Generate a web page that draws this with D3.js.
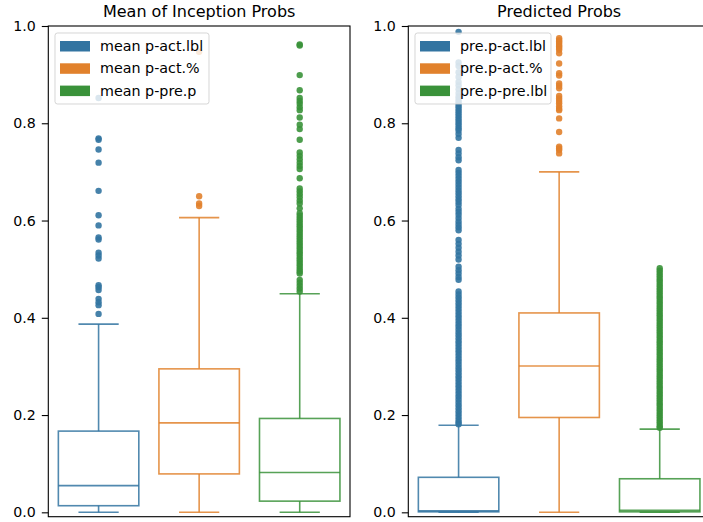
<!DOCTYPE html>
<html>
<head>
<meta charset="utf-8">
<script src="https://cdn.jsdelivr.net/npm/d3@7"></script>
<style>
  html, body { margin: 0; padding: 0; background: #fff; }
  svg { display: block; font-family: "DejaVu Sans", sans-serif; }
</style>
</head>
<body>
<svg id="chart" width="703" height="522"></svg>
<script>
// ---- data -------------------------------------------------------------
const yTicks = [0.0, 0.2, 0.4, 0.6, 0.8, 1.0];
const palette = ["#3274a1", "#e1812c", "#3a923a"];

// Panel 1: mean of inception probabilities
const meanTitle = "Mean of Inception Probs";
const meanLabels = ["mean p-act.lbl", "mean p-act.%", "mean p-pre.p"];
const meanQ1 = [0.0136, 0.079, 0.023];
const meanMedian = [0.055, 0.184, 0.082];
const meanQ3 = [0.167, 0.295, 0.193];
const meanWhiskLo = [0.0, 0.0, 0.0];
const meanWhiskHi = [0.387, 0.606, 0.4495];
const meanFliersActLbl = [0.852, 0.769, 0.766, 0.746, 0.719, 0.661, 0.611, 0.590, 0.565, 0.561,
  0.534, 0.528, 0.522, 0.467, 0.463, 0.457, 0.439, 0.432, 0.426, 0.408];
const meanFliersActPct = [0.947, 0.650, 0.635, 0.630];
const meanFliersPreP = [0.962, 0.960, 0.899, 0.868, 0.852, 0.846, 0.840, 0.833, 0.827, 0.812,
  0.797, 0.788, 0.766, 0.740, 0.733, 0.726, 0.719, 0.712, 0.706, 0.687, 0.666, 0.660, 0.654,
  0.648, 0.641, 0.635, 0.625, 0.615, 0.610, 0.605, 0.600, 0.595, 0.590, 0.585, 0.580, 0.575,
  0.570, 0.565, 0.560, 0.555, 0.550, 0.545, 0.540, 0.535, 0.530, 0.525, 0.520, 0.515, 0.510,
  0.505, 0.500, 0.495, 0.491, 0.478, 0.472, 0.466, 0.460, 0.454];

// Panel 2: predicted probabilities
const predTitle = "Predicted Probs";
const predLabels = ["pre.p-act.lbl", "pre.p-act.%", "pre.p-pre.lbl"];
const predQ1 = [0.001, 0.195, 0.001];
const predMedian = [0.003, 0.301, 0.004];
const predQ3 = [0.072, 0.410, 0.069];
const predWhiskLo = [0.0, 0.0, 0.0];
const predWhiskHi = [0.179, 0.700, 0.171];
const predFliersActLbl = [0.988, 0.925, 0.918, 0.905, 0.895, 0.885, 0.878, 0.870, 0.862, 0.855,
  0.850, 0.845, 0.840, 0.835, 0.830, 0.825, 0.820, 0.815, 0.810, 0.805, 0.800, 0.795, 0.790,
  0.785, 0.778, 0.770, 0.745, 0.738, 0.730, 0.724, 0.704, 0.698, 0.692, 0.686, 0.680, 0.674,
  0.668, 0.662, 0.656, 0.650, 0.644, 0.638, 0.632, 0.624, 0.618, 0.612, 0.605, 0.598, 0.592,
  0.586, 0.580, 0.560, 0.552, 0.544, 0.536, 0.528, 0.520, 0.505, 0.498, 0.491, 0.484, 0.478,
  0.454, 0.448, 0.442, 0.436, 0.430, 0.424, 0.418, 0.412, 0.406, 0.400, 0.394, 0.388, 0.382,
  0.376, 0.370, 0.364, 0.358, 0.352, 0.346, 0.340, 0.334, 0.328, 0.322, 0.316, 0.310, 0.304,
  0.298, 0.292, 0.286, 0.280, 0.274, 0.268, 0.262, 0.256, 0.250, 0.244, 0.238, 0.232, 0.226,
  0.220, 0.214, 0.208, 0.202, 0.196, 0.190, 0.185, 0.181];
const predFliersActPct = [0.975, 0.971, 0.968, 0.965, 0.961, 0.958, 0.955, 0.951, 0.944, 0.923,
  0.903, 0.898, 0.882, 0.877, 0.872, 0.856, 0.851, 0.846, 0.841, 0.835, 0.830, 0.827, 0.810,
  0.782, 0.752, 0.748, 0.745, 0.738];
const predFliersPreLbl = [0.502, 0.497, 0.492, 0.487, 0.482, 0.477, 0.472, 0.467, 0.462, 0.457,
  0.452, 0.447, 0.442, 0.437, 0.432, 0.427, 0.422, 0.417, 0.412, 0.407, 0.402, 0.397, 0.392,
  0.387, 0.382, 0.377, 0.372, 0.367, 0.362, 0.357, 0.352, 0.347, 0.342, 0.337, 0.332, 0.327,
  0.322, 0.317, 0.312, 0.307, 0.302, 0.297, 0.292, 0.287, 0.282, 0.277, 0.272, 0.267, 0.262,
  0.257, 0.252, 0.247, 0.242, 0.237, 0.232, 0.227, 0.222, 0.217, 0.212, 0.207, 0.202, 0.197,
  0.192, 0.187, 0.182, 0.177, 0.174];

// ---- drawing ----------------------------------------------------------
const svg = d3.select("#chart");

const panels = [
  {
    title: meanTitle, labels: meanLabels,
    q1: meanQ1, med: meanMedian, q3: meanQ3, lo: meanWhiskLo, hi: meanWhiskHi,
    fliers: [meanFliersActLbl, meanFliersActPct, meanFliersPreP],
    x0: 48.3, x1: 350, legendW: 154
  },
  {
    title: predTitle, labels: predLabels,
    q1: predQ1, med: predMedian, q3: predQ3, lo: predWhiskLo, hi: predWhiskHi,
    fliers: [predFliersActLbl, predFliersActPct, predFliersPreLbl],
    x0: 408.3, x1: 710, legendW: 136
  }
];

const plotTop = 26, plotBottom = 516.7;
const y = d3.scaleLinear().domain([-0.009, 1.0]).range([plotBottom, plotTop]);

panels.forEach(p => {
  const g = svg.append("g");
  const x = d3.scaleBand().domain(p.labels).range([p.x0, p.x1])
    .paddingInner(0.2).paddingOuter(0.1);
  const bw = x.bandwidth();

  // boxes, whiskers, caps, medians
  p.labels.forEach((lab, i) => {
    const col = palette[i];
    const cx = x(lab) + bw / 2;
    const bg = g.append("g")
      .attr("stroke", col).attr("stroke-width", 1.6).attr("fill", "none")
      .attr("stroke-opacity", 0.85);
    bg.append("rect")
      .attr("x", x(lab)).attr("width", bw)
      .attr("y", y(p.q3[i])).attr("height", y(p.q1[i]) - y(p.q3[i]));
    bg.append("line").attr("x1", x(lab)).attr("x2", x(lab) + bw)
      .attr("y1", y(p.med[i])).attr("y2", y(p.med[i]));
    bg.append("line").attr("x1", cx).attr("x2", cx)
      .attr("y1", y(p.q3[i])).attr("y2", y(p.hi[i]));
    bg.append("line").attr("x1", cx).attr("x2", cx)
      .attr("y1", y(p.q1[i])).attr("y2", y(p.lo[i]));
    [p.hi[i], p.lo[i]].forEach(v => {
      bg.append("line").attr("x1", cx - bw / 4).attr("x2", cx + bw / 4)
        .attr("y1", y(v)).attr("y2", y(v));
    });
  });

  // outliers
  p.labels.forEach((lab, i) => {
    const cx = x(lab) + bw / 2;
    g.append("g").selectAll("circle").data(p.fliers[i]).join("circle")
      .attr("cx", cx).attr("cy", d => y(d)).attr("r", 3.2)
      .attr("fill", palette[i]).attr("fill-opacity", 0.9);
  });

  // y axis
  const axis = d3.axisLeft(y).tickValues(yTicks).tickFormat(d3.format(".1f"))
    .tickSize(6.5).tickPadding(6);
  const ag = g.append("g").attr("transform", `translate(${p.x0},0)`).call(axis);
  ag.select(".domain").remove();
  ag.selectAll(".tick line").attr("stroke", "#000").attr("stroke-width", 1.1);
  ag.selectAll(".tick text").attr("font-size", "14.2px").attr("fill", "#000")
    .attr("font-family", "DejaVu Sans, sans-serif");

  // frame
  g.append("rect").attr("x", p.x0).attr("y", plotTop)
    .attr("width", p.x1 - p.x0).attr("height", plotBottom - plotTop)
    .attr("fill", "none").attr("stroke", "#000").attr("stroke-width", 1.1);

  // title
  g.append("text").attr("x", (p.x0 + p.x1) / 2).attr("y", 17)
    .attr("text-anchor", "middle").attr("font-size", "16px").attr("fill", "#000")
    .text(p.title);

  // legend
  const lx = p.x0 + 6.7, ly = 33;
  const lg = g.append("g");
  lg.append("rect").attr("x", lx).attr("y", ly).attr("width", p.legendW).attr("height", 71)
    .attr("rx", 2.5).attr("fill", "#fff").attr("fill-opacity", 0.8)
    .attr("stroke", "#ccc").attr("stroke-opacity", 0.8);
  p.labels.forEach((lab, i) => {
    const ry = ly + 13 + i * 22.3;
    lg.append("rect").attr("x", lx + 5).attr("y", ry - 5).attr("width", 30).attr("height", 10.5)
      .attr("fill", palette[i]);
    lg.append("text").attr("x", lx + 45).attr("y", ry + 5).attr("font-size", "14.3px")
      .attr("fill", "#000").text(lab);
  });
});
</script>
</body>
</html>
